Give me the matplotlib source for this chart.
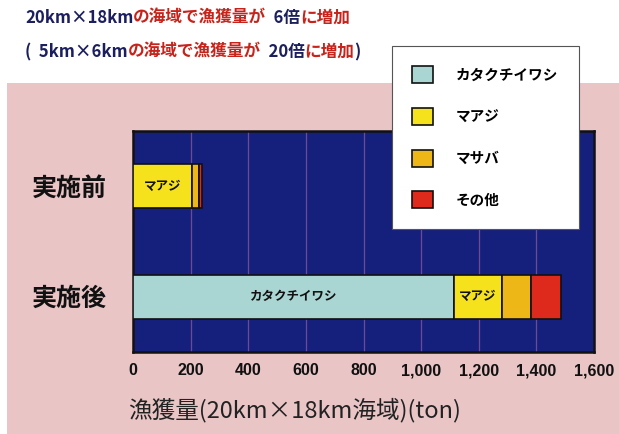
import numpy as np
import matplotlib
matplotlib.use("Agg")
import matplotlib.pyplot as plt
from matplotlib.patches import Rectangle

plt.rcParams['font.family'] = ['Noto Sans CJK JP', 'DejaVu Sans']

# datos
periodos = ['実施後', '実施前']
especies = ['カタクチイワシ', 'マアジ', 'マサバ', 'その他']
colores = ['#a9d5d3', '#f6e21c', '#eeb718', '#dd2a1c']
katakuchi = [1115, 0]
maaji = [165, 205]
masaba = [100, 23]
sonota = [106, 10]
xticks = [0, 200, 400, 600, 800, 1000, 1200, 1400, 1600]
xticklabels = ['0', '200', '400', '600', '800', '1,000', '1,200', '1,400', '1,600']

fig = plt.figure(figsize=(6.19, 4.34), dpi=100)
fig.patch.set_facecolor('white')

# fondo rosa
fig.patches.append(Rectangle((7/619, 0), 1 - 7/619, 1 - 83/434, transform=fig.transFigure,
                             facecolor='#e9c5c6', edgecolor='none', zorder=-5))

ax = fig.add_axes([133/619, 1 - 352/434, (594 - 133)/619, (352 - 131)/434])
ax.set_zorder(2)
ax.set_facecolor('#15207c')

y = np.arange(len(periodos))
series = [katakuchi, maaji, masaba, sonota]
left = np.zeros(len(periodos))
for nombre, vals, c in zip(especies, series, colores):
    ax.barh(y, vals, left=left, height=0.4, color=c, edgecolor='#111111', linewidth=1.2,
            label=nombre, zorder=3)
    left = left + np.array(vals)

# etiquetas dentro de las barras
ax.text(katakuchi[0] / 2, 0, 'カタクチイワシ', ha='center', va='center', fontsize=9,
        fontweight='bold', color='#111111', zorder=4)
ax.text(katakuchi[0] + maaji[0] / 2, 0, 'マアジ', ha='center', va='center', fontsize=9,
        fontweight='bold', color='#111111', zorder=4)
ax.text(maaji[1] / 2, 1, 'マアジ', ha='center', va='center', fontsize=9,
        fontweight='bold', color='#111111', zorder=4)

ax.set_xlim(0, 1600)
ax.set_ylim(-0.5, 1.5)
ax.set_xticks(xticks)
ax.set_xticklabels(xticklabels, fontsize=11.5, fontweight='bold', color='#111111',
                   family=['Liberation Sans', 'DejaVu Sans'])
ax.set_yticks(y)
ax.set_yticklabels(periodos, fontsize=18, fontweight='bold', color='#111111')
ax.tick_params(axis='both', length=0)
ax.tick_params(axis='x', pad=8)
ax.tick_params(axis='y', pad=19)
ax.xaxis.grid(True, color='#6d4a96', linewidth=0.9, zorder=1)
ax.set_axisbelow(True)
for s in ax.spines.values():
    s.set_color('#111111')
    s.set_linewidth(1.8)

ax.set_xlabel('漁獲量(20km×18km海域)(ton)', fontsize=17, color='#222222')
ax.xaxis.set_label_coords(0.351, -0.262)
ax.xaxis.label.set_verticalalignment('center')

leg = fig.legend(loc='upper left', bbox_to_anchor=(392/619, 1 - 46/434), fontsize=10.5,
                 frameon=True, fancybox=False, framealpha=1, handlelength=1.4, handleheight=1.4,
                 borderpad=1.4, labelspacing=1.7, handletextpad=1.6, borderaxespad=0)
leg.get_frame().set_edgecolor('#555555')
leg.get_frame().set_linewidth(0.8)
for t in leg.get_texts():
    t.set_fontweight('bold')
leg.set_zorder(10)

# titulos multicolor
navy = '#1c1f5e'
red = '#c8231a'
lineas = [
    (1 - 18/434, [('20km×18km', navy), ('の海域で漁獲量が', red), ('  6倍', navy), ('に増加', red)]),
    (1 - 52/434, [('(  5km×6km', navy), ('の海域で漁獲量が', red), ('  20倍', navy), ('に増加', red), (')', navy)]),
]
fig.canvas.draw()
r = fig.canvas.get_renderer()
for ypos, partes in lineas:
    x = 25/619
    for txt, c in partes:
        t = fig.text(x, ypos, txt, color=c, fontsize=12, fontweight='bold', va='center', ha='left')
        bb = t.get_window_extent(renderer=r)
        x += bb.width / fig.bbox.width

fig.savefig('out.png', dpi=100, facecolor=fig.get_facecolor())
